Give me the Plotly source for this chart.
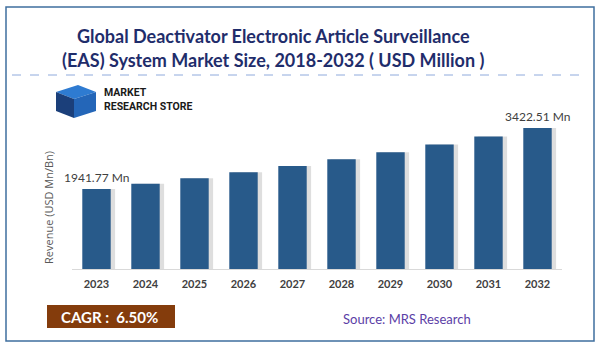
import plotly.graph_objects as go

years = ["2023", "2024", "2025", "2026", "2027", "2028", "2029", "2030", "2031", "2032"]
revenue = [1941.77, 2068, 2202, 2346, 2498, 2661, 2833, 3018, 3214, 3422.51]
first_label = "1941.77 Mn"
last_label = "3422.51 Mn"
title_lines = ["Global Deactivator Electronic Article Surveillance",
               "(EAS) System Market Size, 2018-2032 ( USD Million )"]
y_title = "Revenue (USD Mn/Bn)"
cagr_text = "CAGR :  6.50%"
source_text = "Source: MRS Research"

W, H = 599, 348
L, R, T, B = 72, 37, 100, 79

bar_color = "#285A8A"
xi = list(range(len(years)))

fig = go.Figure()
# shadow
fig.add_trace(go.Bar(x=xi, y=revenue, width=0.6, offset=-0.22,
                     marker=dict(color="rgba(0,0,0,0.13)", line=dict(width=0)),
                     hoverinfo="skip", showlegend=False))
fig.add_trace(go.Bar(x=xi, y=revenue, width=0.58, offset=-0.29,
                     marker=dict(color=bar_color, line=dict(width=0)),
                     showlegend=False))

fig.update_layout(
    width=W, height=H, barmode="overlay",
    margin=dict(l=L, r=R, t=T, b=B),
    paper_bgcolor="white", plot_bgcolor="white",
    font=dict(family="Lato, Open Sans, sans-serif"),
    xaxis=dict(range=[-0.5, len(years) - 0.5], showgrid=False, zeroline=False,
               showline=True, linecolor="#D9D9D9", linewidth=1,
               ticks="", tickfont=dict(size=11, color="#404040", family="Lato"),
               ticklabelstandoff=5,
               tickmode="array", tickvals=xi, ticktext=["<b>%s</b>" % y for y in years]),
    yaxis=dict(range=[0, 4100], showgrid=False, showticklabels=False, zeroline=False),
)

def px(xp):
    return (xp - L) / (W - L - R)

def py(yp):
    return (H - B - yp) / (H - T - B)

# border
fig.add_shape(type="rect", xref="paper", yref="paper",
              x0=px(6), x1=px(594), y0=py(341), y1=py(7),
              line=dict(color="#3F6F9F", width=1.5))

# dashed line under title
fig.add_shape(type="line", xref="paper", yref="paper",
              x0=px(12), x1=px(588), y0=py(75), y1=py(75),
              line=dict(color="#8FAADC", width=1, dash="dash"))

# title
for i, t in enumerate(title_lines):
    fig.add_annotation(text="<b>%s</b>" % t, xref="paper", yref="paper",
                       x=px(273), y=py(36 + 24 * i), xanchor="center", yanchor="middle",
                       showarrow=False, font=dict(size=18, color="#1F2D6B", family="Lato"))

# y-axis title
fig.add_annotation(text=y_title, xref="paper", yref="paper", textangle=-90,
                   x=px(48), y=py(208), xanchor="center", yanchor="middle",
                   showarrow=False, font=dict(size=11, color="#595959", family="Open Sans"))

# logo icon (simplified)
def poly(pts, color):
    path = "M " + " L ".join("%f %f" % (px(a), py(b)) for a, b in pts) + " Z"
    fig.add_shape(type="path", xref="paper", yref="paper", path=path,
                  fillcolor=color, line=dict(width=0))

poly([(56, 92), (78, 85), (96, 92), (74, 99)], "#2E7BD1")
poly([(56, 92), (74, 99), (74, 118), (56, 111)], "#1B3F7A")
poly([(74, 99), (96, 92), (96, 111), (74, 118)], "#2466B8")
fig.add_annotation(text="<b>MARKET<br>RESEARCH STORE</b>", xref="paper", yref="paper",
                   x=px(102), y=py(99), xanchor="left", yanchor="middle", align="left",
                   showarrow=False, font=dict(size=10.5, color="#1A1A1A", family="Roboto"))

# value labels
fig.add_annotation(x=xi[0], y=revenue[0], text=first_label, showarrow=False,
                   yanchor="bottom", yshift=2, font=dict(size=12, color="#404040", family="Lato"))
fig.add_annotation(x=xi[-1], y=revenue[-1], text=last_label, showarrow=False,
                   yanchor="bottom", yshift=2, font=dict(size=12, color="#404040", family="Lato"))

# CAGR box
fig.add_shape(type="rect", xref="paper", yref="paper",
              x0=px(47), x1=px(175), y0=py(328), y1=py(305),
              fillcolor="#843C0C", line=dict(width=0))
fig.add_annotation(text="<b>%s</b>" % cagr_text, xref="paper", yref="paper",
                   x=px(109), y=py(317), xanchor="center", yanchor="middle",
                   showarrow=False, font=dict(size=15, color="white", family="Lato"))

fig.add_annotation(text=source_text, xref="paper", yref="paper",
                   x=px(407), y=py(319), xanchor="center", yanchor="middle",
                   showarrow=False, font=dict(size=13, color="#5B3EA6", family="Lato"))

fig.write_html("out.html")
